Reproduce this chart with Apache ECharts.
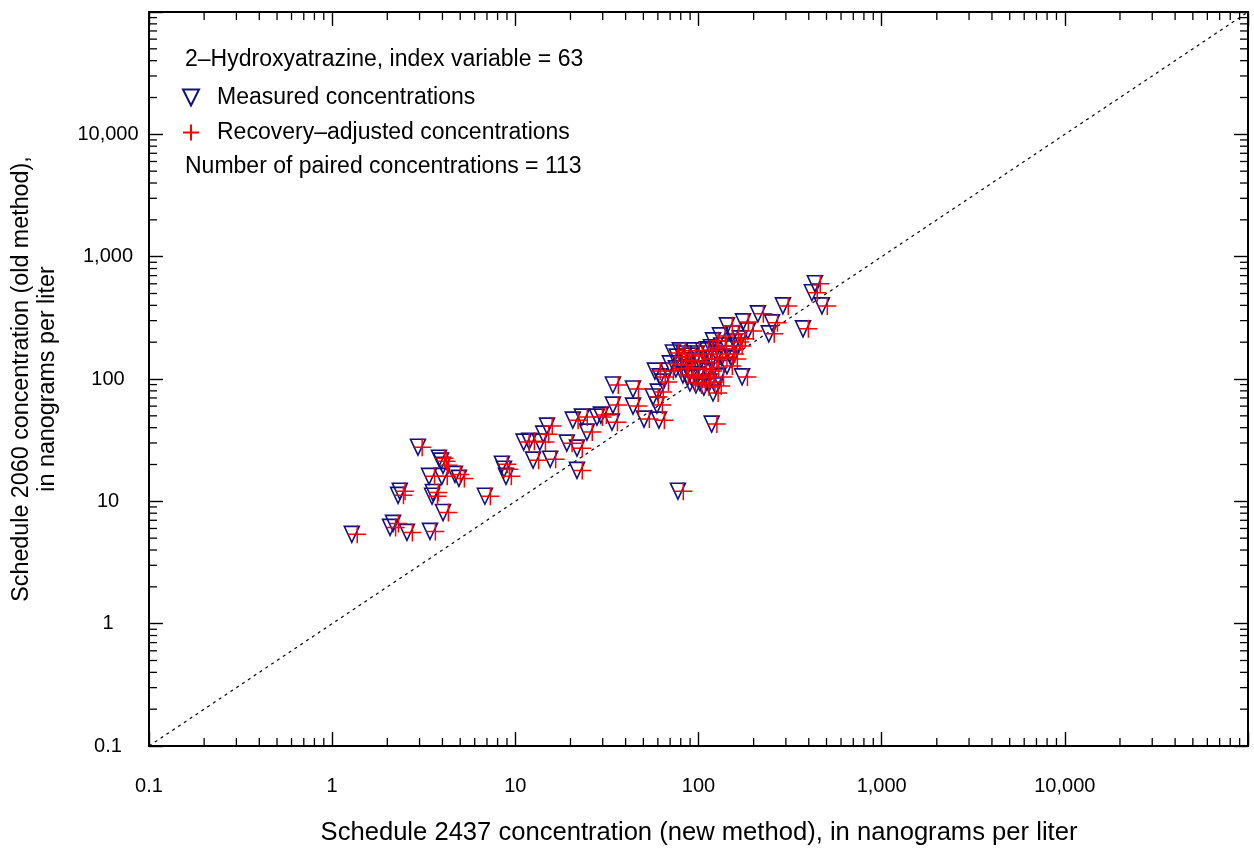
<!DOCTYPE html>
<html><head><meta charset="utf-8">
<script src="https://cdn.jsdelivr.net/npm/echarts@6/dist/echarts.min.js"></script>
<style>html,body{margin:0;padding:0;background:#fff}#c{width:1254px;height:852px}</style>
</head><body><div id="c"></div>
<script>
// Measured concentrations (new method x, old method y), nanograms per liter
const measuredX = [1.28, 2.94, 3.83, 3.93, 4.03, 3.38, 3.97, 4.68, 4.92, 2.29, 2.34, 3.55, 3.51, 4.03, 2.07, 2.15, 2.56, 3.42, 6.82,
  8.45, 8.67, 8.89, 11.1, 11.9, 13.6, 14.2, 14.9, 12.5, 15.5, 19.1, 21.7, 21.7, 20.6, 23.1, 24.6, 27.9, 29.3, 33.7, 34.1, 34.1, 43.9, 43.9, 50.4, 56.4, 60.0, 59.3, 60.8, 77.2,
  57.8, 61.5, 64.0, 69.8, 72.5, 76.2, 79.1, 82.2, 86.5, 89.8, 92.0, 98.0, 102, 106, 111, 94.4, 99.3, 102, 107, 120, 124, 126, 117, 133, 143, 85.3, 89.8, 80.2, 112, 118,
  83.2, 94.4, 103, 108, 87.5, 96.8, 110, 121, 128, 115, 75.3, 68.1, 134, 152,
  120, 131, 143, 154, 158, 168, 175, 186, 211, 252, 242, 289, 372, 416, 432, 472, 173, 118, 145, 162, 148];
const measuredY = [5.37, 27.7, 22.5, 21.3, 19.7, 16.0, 16.0, 16.6, 15.4, 11.2, 12.1, 11.8, 11.0, 8.1, 6.12, 6.6, 5.57, 5.68, 11.0,
  20.1, 18.3, 16.0, 30.5, 31.0, 30.5, 35.4, 41.2, 21.7, 22.1, 29.9, 27.2, 17.9, 46.1, 48.8, 36.8, 48.8, 50.7, 44.4, 89.3, 61.2, 82.8, 60.1, 47.0, 71.2, 78.2, 61.2, 46.1, 12.1,
  116, 104, 94.4, 133, 163, 151, 170, 108, 123, 154, 102, 160, 92.7, 170, 173, 121, 108, 138, 85.9, 76.8, 87.7, 160, 180, 186, 128, 141, 92.7, 130, 116, 146,
  160, 170, 121, 104, 104, 89.3, 146, 125, 104, 94.4, 121, 116, 151, 146,
  205, 225, 272, 234, 201, 213, 293, 247, 341, 288, 234, 396, 257, 507, 601, 396, 104, 42.8, 176, 186, 160];
// Recovery-adjusted concentrations
const adjustedX = [1.37, 3.10, 4.10, 4.20, 4.32, 3.62, 4.25, 5.01, 5.27, 2.45, 2.50, 3.80, 3.76, 4.31, 2.22, 2.30, 2.74, 3.66, 7.30,
  9.04, 9.28, 9.51, 11.9, 12.7, 14.6, 15.2, 15.9, 13.4, 16.6, 20.4, 23.2, 23.2, 22.0, 24.7, 26.3, 29.9, 31.4, 36.1, 36.5, 36.5, 47.0, 47.0, 53.9, 60.3, 64.2, 63.5, 65.1, 82.6,
  61.8, 65.8, 68.5, 74.7, 77.6, 81.5, 84.6, 88.0, 92.6, 96.1, 98.4, 105, 109, 113, 119, 101, 106, 109, 114, 128, 133, 135, 125, 142, 153, 91.3, 96.1, 85.8, 120, 126,
  89.0, 101, 110, 116, 93.6, 104, 118, 129, 137, 123, 80.6, 72.9, 143, 163,
  128, 140, 153, 165, 169, 180, 187, 199, 226, 270, 259, 309, 398, 445, 462, 505, 185, 126, 155, 173, 158];
const adjustedY = measuredY.slice();
const lineOfEquality = [0.1, 100000];
const decadeTicks = [0.1, 1, 10, 100, 1000, 10000, 100000];
const tickLabels = ['0.1', '1', '10', '100', '1,000', '10,000', ''];
const titleText = '2\u2013Hydroxyatrazine, index variable = 63';
const countText = 'Number of paired concentrations = 113';
const nameMeasured = 'Measured concentrations';
const nameAdjusted = 'Recovery\u2013adjusted concentrations';
const xTitle = 'Schedule 2437 concentration (new method), in nanograms per liter';
const yTitle = 'Schedule 2060 concentration (old method),\nin nanograms per liter';

const FONT = '"Liberation Sans", Arial, sans-serif';
const minorTicks = [];
for (let i = 0; i < decadeTicks.length - 1; i++) for (let m = 2; m <= 9; m++) minorTicks.push(decadeTicks[i] * m);

const triPath = 'path://M0,0L16,0L8,16Z';
const plusPath = 'path://M9,0L9,18M0,9L18,9';
const navy = '#10107f';
const red = '#ff0000';

function labelFor(v) {
  const e = Math.round(Math.log10(v)) + 1;
  return tickLabels[e] !== undefined ? tickLabels[e] : '';
}
function baseAxis(pos, showLabel) {
  return {
    type: 'log', logBase: 10, min: 0.1, max: 100000, splitNumber: 6, position: pos,
    axisLine: { show: true, onZero: false, lineStyle: { color: '#000', width: 2 } },
    axisTick: { show: true, inside: true, length: 14, lineStyle: { color: '#000', width: 1.4 } },
    minorTick: { show: false }, splitLine: { show: false },
    axisLabel: { show: showLabel, formatter: labelFor, fontFamily: FONT, fontSize: 20, color: '#000' }
  };
}
const xBottom = baseAxis('bottom', true); xBottom.axisLabel.margin = 30;
const xTop = baseAxis('top', false);
const yLeft = baseAxis('left', true); yLeft.axisLabel.margin = 41; yLeft.axisLabel.align = 'center';
const yRight = baseAxis('right', false);

const chart = echarts.init(document.getElementById('c'), null, { renderer: 'canvas' });
chart.setOption({
  animation: false,
  backgroundColor: '#fff',
  grid: { left: 149, right: 6, top: 12, bottom: 106, containLabel: false },
  xAxis: [xBottom, xTop],
  yAxis: [yLeft, yRight],
  legend: {
    orient: 'vertical', left: 177, top: 81, itemGap: 12, itemWidth: 42, itemHeight: 16,
    selectedMode: false,
    textStyle: { fontFamily: FONT, fontSize: 23, color: '#000', lineHeight: 22 },
    data: [{ name: nameMeasured, icon: triPath }, { name: nameAdjusted, icon: plusPath }]
  },
  graphic: [
    { type: 'text', x: 185, y: 60, style: { text: titleText, font: '23px ' + FONT, fill: '#000', verticalAlign: 'middle' } },
    { type: 'text', x: 185, y: 167, style: { text: countText, font: '23px ' + FONT, fill: '#000', verticalAlign: 'middle' } },
    { type: 'text', x: 699, y: 833, style: { text: xTitle, font: '25.6px ' + FONT, fill: '#000', align: 'center', verticalAlign: 'middle' } },
    { type: 'text', x: 35, y: 379, rotation: Math.PI / 2, style: { text: yTitle, font: '23.3px ' + FONT, fill: '#000', align: 'center', verticalAlign: 'middle', lineHeight: 26 } }
  ],
  series: [
    {
      type: 'line', silent: true, showSymbol: false, xAxisIndex: 0, yAxisIndex: 0,
      data: [[lineOfEquality[0], lineOfEquality[0]], [lineOfEquality[1], lineOfEquality[1]]],
      lineStyle: { color: '#000', width: 1.2, type: [3, 4] }, z: 1
    },
    {
      type: 'custom', silent: true, xAxisIndex: 0, yAxisIndex: 0, z: 5,
      data: minorTicks.map(v => [v, v]),
      renderItem(params, api) {
        const v = api.value(0);
        const cs = params.coordSys;
        const px = api.coord([v, 1])[0];
        const py = api.coord([1, v])[1];
        const L = 8;
        const st = { stroke: '#000', lineWidth: 1.3 };
        const b = cs.y + cs.height, r = cs.x + cs.width;
        return { type: 'group', children: [
          { type: 'line', shape: { x1: px, y1: b, x2: px, y2: b - L }, style: st },
          { type: 'line', shape: { x1: px, y1: cs.y, x2: px, y2: cs.y + L }, style: st },
          { type: 'line', shape: { x1: cs.x, y1: py, x2: cs.x + L, y2: py }, style: st },
          { type: 'line', shape: { x1: r, y1: py, x2: r - L, y2: py }, style: st }
        ] };
      }
    },
    {
      name: nameMeasured, type: 'scatter', xAxisIndex: 0, yAxisIndex: 0, z: 3,
      symbol: triPath, symbolSize: [15, 16],
      itemStyle: { color: 'rgba(0,0,0,0)', borderColor: navy, borderWidth: 1.6, opacity: 1 },
      data: measuredX.map((x, i) => [x, measuredY[i]])
    },
    {
      name: nameAdjusted, type: 'scatter', xAxisIndex: 0, yAxisIndex: 0, z: 4,
      symbol: plusPath, symbolSize: 18,
      itemStyle: { color: 'rgba(0,0,0,0)', borderColor: red, borderWidth: 1.5, opacity: 1 },
      data: adjustedX.map((x, i) => [x, adjustedY[i]])
    }
  ]
});
</script></body></html>
